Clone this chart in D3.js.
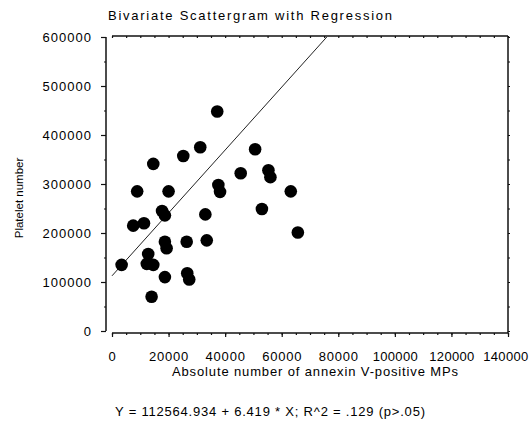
<!DOCTYPE html>
<html>
<head>
<meta charset="utf-8">
<script src="https://cdn.jsdelivr.net/npm/d3@7"></script>
<style>
  body { margin: 0; background: #fff; }
  text { font-family: "Liberation Sans", Arial, sans-serif; fill: #000; }
</style>
</head>
<body>
<svg id="chart" width="530" height="436"></svg>
<script>
// annexin V-positive MPs (x) vs platelet number (y)
var mpsCount = [37200, 31200, 25200, 14600, 50600, 45500, 55300, 56000, 37600, 38200,
                8900, 20000, 63200, 53000, 65700, 7500, 11300, 17700, 18700, 33000,
                26400, 33500, 18700, 19300, 12800, 12300, 14600, 3400, 18700, 26600,
                27300, 14000];
var plateletCount = [448000, 375000, 357000, 341000, 371000, 322000, 328000, 314000, 298000, 284000,
                     285000, 285000, 285000, 249000, 201000, 215000, 220000, 245000, 236000, 238000,
                     182000, 185000, 182000, 169000, 157000, 137000, 135000, 135000, 110000, 118000,
                     105000, 70000];
var xMajorTicks = [0, 20000, 40000, 60000, 80000, 100000, 120000, 140000];
var xTickLabels = ["0", "20000", "40000", "60000", "80000", "100000", "120000", "140000"];
var yMajorTicks = [0, 100000, 200000, 300000, 400000, 500000, 600000];
var yTickLabels = ["0", "100000", "200000", "300000", "400000", "500000", "600000"];
var intercept = 112564.934, slope = 6.419;

var svg = d3.select("#chart");

var x = d3.scaleLinear().domain([0, 140000]).range([112, 508]);
var y = d3.scaleLinear().domain([0, 600000]).range([331, 37]);

var xMinor = d3.range(0, 140001, 5000);
var yMinor = d3.range(0, 600001, 50000);

function clean(g) {
    g.select(".domain").remove();
    g.selectAll("line").attr("stroke", "#111").attr("stroke-width", 1.2);
}

// frame lines
var frame = svg.append("g").attr("stroke", "#111").attr("stroke-width", 1.5).attr("fill", "none");
frame.append("line").attr("x1", 106).attr("x2", 106).attr("y1", y(600000)).attr("y2", y(0));
frame.append("line").attr("x1", x(0)).attr("x2", x(140000)).attr("y1", 333).attr("y2", 333);
frame.append("line").attr("x1", x(0)).attr("x2", x(140000)).attr("y1", 36).attr("y2", 36);
frame.append("line").attr("x1", 508).attr("x2", 508).attr("y1", 36).attr("y2", 333);

// bottom axis
svg.append("g").attr("transform", "translate(0,333)")
    .call(d3.axisBottom(x).tickValues(xMinor).tickSize(2).tickFormat(""))
    .call(clean);
var xAxisG = svg.append("g").attr("transform", "translate(0,333)")
    .call(d3.axisBottom(x).tickValues(xMajorTicks).tickSize(4).tickPadding(15)
        .tickFormat(function (d, i) { return xTickLabels[i]; }))
    .call(clean);
xAxisG.selectAll("text").attr("font-size", 13)
    .attr("letter-spacing", function (d) { return d >= 100000 ? 0.3 : 0.8; });
// last label would run past the window edge
xAxisG.selectAll("text").filter(function (d) { return d === 140000; })
    .attr("text-anchor", "end").attr("x", 528 - x(140000));

// top and right ticks
svg.append("g").attr("transform", "translate(0,36)")
    .call(d3.axisBottom(x).tickValues(xMinor).tickSize(2).tickFormat(""))
    .call(clean);
svg.append("g").attr("transform", "translate(508,0)")
    .call(d3.axisRight(y).tickValues(yMinor).tickSize(2).tickFormat(""))
    .call(clean);

// left axis
svg.append("g").attr("transform", "translate(106,0)")
    .call(d3.axisLeft(y).tickValues(yMinor).tickSize(2).tickFormat(""))
    .call(clean);
svg.append("g").attr("transform", "translate(106,0)")
    .call(d3.axisLeft(y).tickValues(yMajorTicks).tickSize(5).tickPadding(9)
        .tickFormat(function (d, i) { return yTickLabels[i]; }))
    .call(clean)
    .selectAll("text").attr("font-size", 13).attr("letter-spacing", 1);

// regression line
var xEnd = (600000 - intercept) / slope;
svg.append("line")
    .attr("x1", x(0)).attr("y1", y(intercept))
    .attr("x2", x(xEnd)).attr("y2", y(600000))
    .attr("stroke", "#222").attr("stroke-width", 1);

// points
svg.append("g").selectAll("circle")
    .data(mpsCount)
    .enter().append("circle")
    .attr("cx", function (d) { return x(d); })
    .attr("cy", function (d, i) { return y(plateletCount[i]); })
    .attr("r", 6.3)
    .attr("fill", "#000");

// texts
svg.append("text").attr("x", 108).attr("y", 20)
    .attr("font-size", 13).attr("textLength", 284).attr("lengthAdjust", "spacing")
    .text("Bivariate Scattergram with Regression");

svg.append("text").attr("x", 315).attr("y", 376).attr("text-anchor", "middle")
    .attr("font-size", 13).attr("textLength", 286).attr("lengthAdjust", "spacing")
    .text("Absolute number of annexin V-positive MPs");

svg.append("text").attr("transform", "translate(23,198) rotate(-90)").attr("text-anchor", "middle")
    .attr("font-size", 11.5)
    .text("Platelet number");

svg.append("text").attr("x", 270).attr("y", 416).attr("text-anchor", "middle")
    .attr("font-size", 13).attr("textLength", 310).attr("lengthAdjust", "spacing")
    .text("Y = 112564.934 + 6.419 * X; R^2 = .129 (p>.05)");
</script>
</body>
</html>
